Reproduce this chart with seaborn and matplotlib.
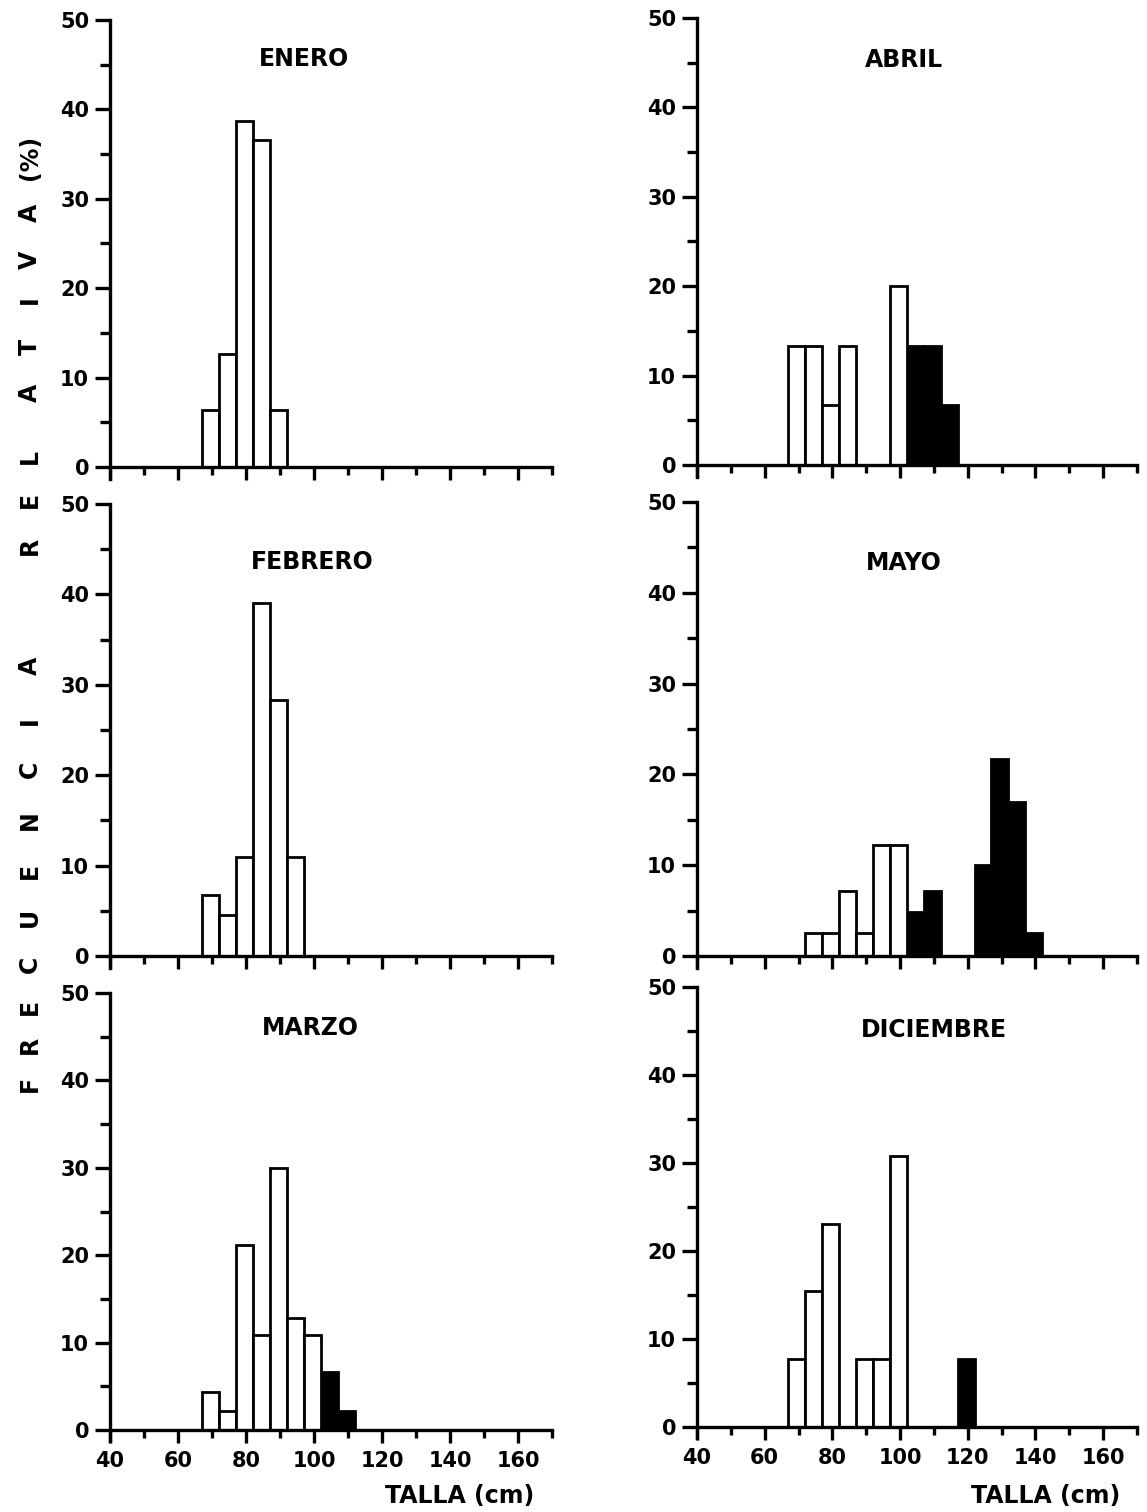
import numpy as np
import pandas as pd
import matplotlib
matplotlib.use("Agg")
import matplotlib.pyplot as plt
from matplotlib.ticker import MultipleLocator, FixedLocator
import seaborn as sns

# ---------------- data (percent of fish per 5 cm size class) ----------------
bin_edges = list(range(67, 147, 5))          # size classes, cm

enero_talla = [69.5, 74.5, 79.5, 84.5, 89.5]
enero_frec = [6.4, 12.6, 38.7, 36.6, 6.4]
enero_tipo = ["blanco"] * 5

febrero_talla = [69.5, 74.5, 79.5, 84.5, 89.5, 94.5]
febrero_frec = [6.7, 4.5, 10.9, 39.1, 28.3, 10.9]
febrero_tipo = ["blanco"] * 6

marzo_talla = [69.5, 74.5, 79.5, 84.5, 89.5, 94.5, 99.5, 104.5, 109.5]
marzo_frec = [4.3, 2.2, 21.2, 10.9, 30.0, 12.8, 10.9, 6.6, 2.2]
marzo_tipo = ["blanco"] * 7 + ["negro"] * 2

abril_talla = [69.5, 74.5, 79.5, 84.5, 99.5, 104.5, 109.5, 114.5]
abril_frec = [13.3, 13.3, 6.7, 13.3, 20.0, 13.3, 13.3, 6.7]
abril_tipo = ["blanco"] * 5 + ["negro"] * 3

mayo_talla = [74.5, 79.5, 84.5, 89.5, 94.5, 99.5, 104.5, 109.5,
              124.5, 129.5, 134.5, 139.5]
mayo_frec = [2.5, 2.5, 7.2, 2.5, 12.2, 12.2, 4.9, 7.2, 10.0, 21.7, 17.0, 2.5]
mayo_tipo = ["blanco"] * 6 + ["negro"] * 6

diciembre_talla = [69.5, 74.5, 79.5, 89.5, 94.5, 99.5, 119.5]
diciembre_frec = [7.7, 15.4, 23.1, 7.7, 7.7, 30.8, 7.7]
diciembre_tipo = ["blanco"] * 6 + ["negro"]

x_major = [40, 60, 80, 100, 120, 140, 160]
x_minor = [50, 70, 90, 110, 130, 150, 170]
y_ticks = [0, 10, 20, 30, 40, 50]

ylabel_letters = list("FRECUENCIA") + list("RELATIVA") + ["(%)"]

# ---------------- styling ----------------
sns.set_theme(style="white")
plt.rcParams["font.family"] = ["DejaVu Sans"]
plt.rcParams["font.weight"] = "bold"
for k in ["text.color", "axes.labelcolor", "xtick.color", "ytick.color",
          "axes.edgecolor"]:
    plt.rcParams[k] = "black"

W, H = 1147, 1512
fig = plt.figure(figsize=(W / 100, H / 100), dpi=100)
fig.patch.set_facecolor("white")

YMIN = -1.3


def rect(x40, x170, y50, y0):
    """axes rect in figure fraction from pixel positions of 40/170 cm and 50/0 %."""
    ppu = (y0 - y50) / 50.0
    ybot = y0 - YMIN * ppu
    left = x40 / W
    width = (x170 - x40) / W
    bottom = 1 - ybot / H
    height = (ybot - y50) / H
    return [left, bottom, width, height]


panels = [
    ("ENERO", enero_talla, enero_frec, enero_tipo, rect(110, 552, 20, 467), (97, 45.6), None),
    ("FEBRERO", febrero_talla, febrero_frec, febrero_tipo, rect(110, 552, 504, 956), (99.5, 43.6), None),
    ("MARZO", marzo_talla, marzo_frec, marzo_tipo, rect(110, 552, 993, 1430), (99, 46.0), (460, 1496)),
    ("ABRIL", abril_talla, abril_frec, abril_tipo, rect(697, 1137, 18, 465), (101, 45.3), None),
    ("MAYO", mayo_talla, mayo_frec, mayo_tipo, rect(697, 1137, 502, 956), (101, 43.3), None),
    ("DICIEMBRE", diciembre_talla, diciembre_frec, diciembre_tipo, rect(697, 1137, 987, 1427), (110, 45.1), (1046, 1496)),
]

palette = {"blanco": "white", "negro": "black"}

for title, talla, frec, tipo, r, tpos, xlab in panels:
    ax = fig.add_axes(r)
    df = pd.DataFrame({"talla": talla, "frec": frec, "tipo": tipo})
    sns.histplot(data=df, x="talla", weights="frec", hue="tipo",
                 hue_order=["blanco", "negro"], palette=palette,
                 bins=bin_edges, multiple="layer", element="bars",
                 fill=True, alpha=1, edgecolor="black", linewidth=2.0,
                 legend=False, ax=ax)
    ax.set_xlim(40, 170)
    ax.set_ylim(YMIN, 50)
    ax.set_facecolor("white")
    for s in ["top", "right"]:
        ax.spines[s].set_visible(False)
    ax.spines["bottom"].set_position(("data", 0))
    ax.spines["bottom"].set_bounds(40, 170)
    for s in ["left", "bottom"]:
        ax.spines[s].set_color("black")
        ax.spines[s].set_linewidth(2.4)
        ax.spines[s].set_zorder(5)

    bottom_labels = xlab is not None
    ax.xaxis.set_major_locator(FixedLocator(x_major))
    ax.xaxis.set_minor_locator(FixedLocator(x_minor))
    ax.yaxis.set_major_locator(FixedLocator(y_ticks))
    ax.yaxis.set_minor_locator(MultipleLocator(5))
    ax.tick_params(axis="x", which="major", direction="out", length=9,
                   width=2.4, color="black", pad=6, labelsize=15,
                   bottom=True, labelbottom=bottom_labels)
    ax.tick_params(axis="x", which="minor", direction="out", length=5.5,
                   width=2.4, color="black", bottom=True)
    ax.tick_params(axis="y", which="major", direction="out", length=11,
                   width=2.4, color="black", pad=4, labelsize=15, left=True)
    ax.tick_params(axis="y", which="minor", direction="out", length=7.5,
                   width=2.4, color="black", left=True)
    for lab in ax.get_xticklabels() + ax.get_yticklabels():
        lab.set_fontweight("bold")
    ax.set_xlabel("")
    ax.set_ylabel("")
    ax.text(tpos[0], tpos[1], title, ha="center", va="center",
            fontsize=17, fontweight="bold", color="black")
    if bottom_labels:
        fig.text(xlab[0] / W, 1 - xlab[1] / H, "TALLA (cm)",
                 ha="center", va="center", fontsize=17, fontweight="bold",
                 color="black")

# vertical spaced y-label letters
letter_y = [1084, 1045, 1007, 964, 917, 871, 820, 769, 721, 666,
            546, 500, 457, 393, 347, 300, 260, 213, 157]
for ch, ypx in zip(ylabel_letters, letter_y):
    fig.text(30 / W, 1 - ypx / H, ch, rotation=90, ha="center", va="center",
             fontsize=17, fontweight="bold", color="black")

fig.savefig("out.png", dpi=100, facecolor="white")
